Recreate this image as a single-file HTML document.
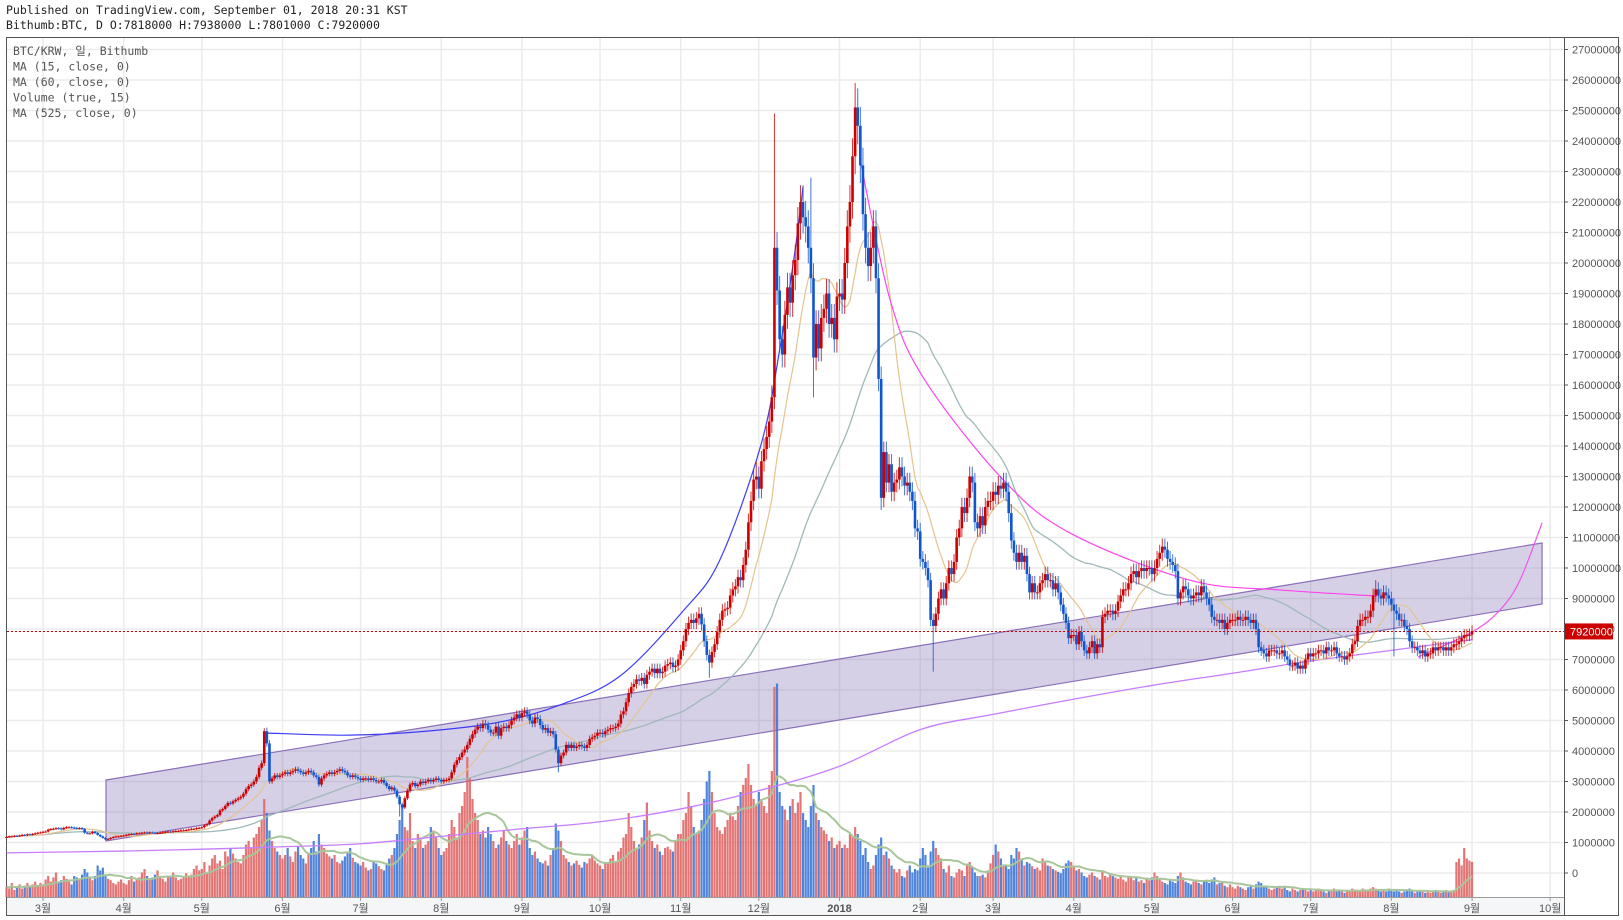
<!DOCTYPE html>
<html><head><meta charset="utf-8"><style>
body{margin:0;background:#fff;width:1623px;height:920px;overflow:hidden;font-family:"DejaVu Sans Mono","Liberation Mono",monospace}
#hdr{position:absolute;left:6px;top:3px;font-size:11.5px;color:#222;line-height:15px}
svg{position:absolute;left:0;top:0}
</style></head><body>
<div id="hdr">Published on TradingView.com, September 01, 2018 20:31 KST<br>Bithumb:BTC, D O:7818000 H:7938000 L:7801000 C:7920000</div>
<svg id="c" width="1623" height="920"></svg>
<script>
const closes=[1.18,1.2,1.2,1.22,1.21,1.23,1.25,1.24,1.27,1.26,1.28,1.3,1.32,1.33,
1.35,1.36,1.42,1.44,1.45,1.47,1.46,1.43,1.48,1.5,1.5,1.49,1.48,1.46,1.47,1.44,1.32,1.3,1.3,1.35,1.31,1.25,1.2,1.15,1.1,1.12,1.15,1.18,1.2,1.2,1.22,
1.23,1.25,1.27,1.28,1.27,1.3,1.3,1.32,1.33,1.31,1.33,1.32,1.3,1.31,1.32,1.33,1.35,1.36,1.35,1.37,1.38,1.38,1.4,1.4,1.41,1.43,1.45,1.45,1.47,1.48,
1.5,1.56,1.6,1.72,1.8,1.85,1.9,2.05,2.1,2.2,2.3,2.28,2.35,2.4,2.45,2.5,2.6,2.75,2.85,2.9,3.0,3.15,3.45,3.6,4.65,4.25,3.0,3.1,3.2,3.15,3.2,
3.25,3.3,3.25,3.3,3.35,3.4,3.35,3.3,3.25,3.3,3.35,3.3,3.2,3.15,2.9,3.1,3.2,3.25,3.3,3.25,3.3,3.35,3.4,3.35,3.3,3.2,3.15,3.2,3.15,3.1,
3.05,3.1,3.1,3.05,3.1,3.05,3.0,3.0,3.05,2.95,2.85,2.75,2.8,2.7,2.5,2.25,2.15,2.45,2.7,2.9,2.95,2.85,2.9,3.0,2.95,3.0,3.05,3.0,3.05,3.1,3.05,
3.0,3.05,3.05,3.1,3.3,3.55,3.7,3.8,3.95,4.05,4.2,4.4,4.55,4.7,4.8,4.75,4.9,4.85,4.7,4.6,4.6,4.8,4.5,4.75,4.8,4.75,4.85,5.0,5.1,5.2,5.1,
5.25,5.3,5.2,5.0,4.9,5.1,5.05,4.85,4.7,4.75,4.6,4.65,4.55,4.05,3.6,3.85,3.95,4.2,4.1,4.2,4.1,4.15,4.2,4.15,4.1,4.2,4.4,4.45,4.5,4.6,
4.6,4.55,4.65,4.7,4.75,4.75,4.8,4.9,5.2,5.3,5.6,5.9,6.1,6.2,6.35,6.3,6.4,6.2,6.5,6.6,6.7,6.55,6.7,6.55,6.6,6.8,6.85,6.9,6.75,6.8,7.0,
7.3,7.6,8.0,8.2,8.3,8.2,8.35,8.5,8.15,7.6,7.15,6.9,7.25,7.5,7.9,8.3,8.6,8.65,8.7,9.1,9.3,9.4,9.7,9.6,10.1,10.6,11.5,12.2,12.9,13.0,
12.6,13.5,13.9,14.3,14.8,15.6,20.5,19.1,17.5,17.0,18.3,19.2,18.7,19.6,20.1,21.3,22.0,21.5,21.2,20.5,19.5,16.9,18.0,17.2,18.2,18.5,19.0,18.0,18.2,17.5,18.9,
19.0,18.8,20.0,21.2,22.0,23.5,25.1,24.5,23.2,21.6,20.5,19.9,20.5,21.2,19.5,16.2,12.3,13.8,12.8,13.4,12.5,12.8,12.9,13.3,13.0,12.7,12.8,12.5,12.2,11.3,11.2,
10.3,10.2,10.0,9.6,8.3,8.1,8.5,9.0,9.3,9.0,9.5,10.0,9.8,10.2,11.0,11.3,12.0,11.8,12.3,13.0,12.8,11.5,11.3,11.7,11.4,12.0,12.2,12.2,
12.5,12.4,12.7,12.6,12.8,12.5,11.8,10.9,10.5,10.2,10.5,10.2,10.4,9.8,9.2,9.5,9.2,9.2,9.5,9.6,9.8,9.6,9.6,9.3,9.5,9.2,8.8,8.5,8.2,7.7,7.8,
7.8,7.5,7.9,7.6,7.3,7.2,7.4,7.6,7.2,7.5,7.4,8.4,8.5,8.6,8.6,8.5,8.6,8.9,9.1,9.3,9.3,9.5,9.8,9.9,9.7,9.9,10.0,9.9,10.0,10.0,
9.8,10.0,10.3,10.5,10.7,10.6,10.3,10.2,10.1,9.9,9.0,9.2,9.4,9.3,9.1,9.0,9.1,9.2,9.1,9.4,9.2,9.0,8.8,8.4,8.3,8.3,8.2,8.3,8.0,8.2,8.3,
8.3,8.3,8.4,8.3,8.3,8.4,8.3,8.2,8.3,8.0,7.4,7.3,7.2,7.1,7.3,7.3,7.3,7.2,7.2,7.3,7.1,7.0,6.8,6.8,6.9,6.7,6.8,6.7,7.0,7.2,
7.1,7.2,7.2,7.3,7.3,7.2,7.4,7.3,7.3,7.4,7.2,7.1,7.1,7.0,7.1,7.2,7.5,7.6,8.1,8.3,8.3,8.4,8.4,8.6,9.1,9.3,9.1,9.0,9.2,9.1,9.0,
8.8,8.6,8.5,8.3,8.3,8.1,8.0,7.6,7.4,7.4,7.3,7.2,7.3,7.1,7.2,7.2,7.4,7.3,7.4,7.4,7.3,7.4,7.3,7.4,7.5,7.5,7.6,7.7,7.8,7.8,7.818,
7.92];
const volumes=[15,12,20,10,14,18,12,16,20,14,18,22,16,20,
18,25,30,22,28,35,20,24,30,26,22,18,30,28,25,32,40,35,28,24,30,45,38,42,30,26,24,20,18,22,25,
20,18,24,30,22,26,28,35,40,30,25,28,32,38,30,26,22,28,30,35,28,24,26,30,34,28,32,40,45,38,
40,50,35,45,55,60,48,52,40,65,58,70,62,55,50,48,60,75,80,70,85,90,100,110,140,120,95,80,70,65,60,
55,60,70,58,50,65,72,60,55,48,62,70,80,65,90,75,70,62,58,55,60,50,48,52,58,64,70,56,50,48,
45,50,42,38,40,52,48,44,40,38,46,55,60,70,90,110,130,100,95,120,80,70,90,85,70,75,80,100,95,85,70,
60,65,70,90,110,100,85,120,130,150,200,170,140,120,110,90,95,85,100,90,80,70,75,85,95,80,75,70,80,90,75,
85,95,100,70,60,65,55,50,48,52,45,60,70,105,95,80,60,55,50,45,48,52,46,42,50,48,55,60,52,48,
45,40,50,48,55,60,50,65,70,85,90,120,100,80,70,75,85,110,135,95,80,70,75,65,60,70,72,68,65,80,90,
90,110,120,150,130,100,90,95,110,140,165,180,150,120,100,95,90,100,110,120,115,110,130,150,160,170,190,160,140,130,
150,140,130,120,160,180,300,305,150,130,125,110,130,140,120,135,150,120,110,100,130,160,120,110,100,95,90,80,85,70,75,
80,70,75,70,90,85,100,90,80,60,70,50,40,45,60,75,85,60,65,55,45,40,35,40,30,28,38,45,35,40,38,
55,70,60,45,65,80,70,60,55,40,35,45,30,28,35,40,38,30,45,50,42,35,30,30,32,28,38,48,
60,75,65,55,45,45,40,60,55,70,65,55,45,50,48,44,40,42,38,55,50,45,44,40,38,36,34,40,48,52,50,
45,38,40,35,30,28,32,35,30,28,25,38,30,28,32,30,28,26,30,25,22,30,28,24,28,22,24,20,26,24,
28,35,30,25,22,20,18,24,22,20,30,35,28,22,20,18,22,25,20,18,22,24,20,25,28,18,20,22,16,14,18,
14,12,16,14,12,10,14,16,12,18,22,20,15,14,12,10,12,14,16,12,14,10,8,12,10,8,10,12,10,8,
10,8,10,12,10,8,6,8,10,12,8,10,8,6,8,10,12,10,8,10,12,8,10,12,14,12,10,8,10,8,12,
10,8,10,8,6,8,10,12,8,6,8,10,8,6,8,6,8,10,8,6,8,10,8,8,10,50,55,45,70,55,52,
50];
const highSpikes=[[99,4.75],[295,24.9],[326,25.9],[309,22.8],[288,13.5],[451,9.3],[526,9.6]];
const lowSpikes=[[151,1.85],[212,3.3],[270,6.4],[310,15.6],[356,6.6],[533,7.1],[336,11.9]];
const ma525Idx=[0,45,75,106,136,167,198,228,259,289,320,351,379,410,440,471,501,532,563];
const ma525Val=[0.66,0.72,0.78,0.86,0.96,1.2,1.45,1.68,2.1,2.7,3.5,4.7,5.2,5.7,6.15,6.55,6.95,7.3,7.65];
const monthLabels=["3월","4월","5월","6월","7월","8월","9월","10월","11월","12월","2018","2월","3월","4월","5월","6월","7월","8월","9월","10월"];
const monthIdx=[14,45,75,106,136,167,198,228,259,289,320,351,379,410,440,471,501,532,563,593];
const priceTicks=[0,1,2,3,4,5,6,7,8,9,10,11,12,13,14,15,16,17,18,19,20,21,22,23,24,25,26,27];
const lastPrice=7.92;

const NS="http://www.w3.org/2000/svg";
const svg=document.getElementById('c');
const X=i=>43+(i-14)*2.603;
const Y=v=>873-30.5*v;
const VS=0.7;
const VY=h=>897-h*VS;
function el(t,a,p){const e=document.createElementNS(NS,t);for(const k in a)e.setAttribute(k,a[k]);(p||svg).appendChild(e);return e;}
function smooth(P){let d='M'+P[0][0]+','+P[0][1];for(let k=0;k<P.length-1;k++){const p0=P[k-1]||P[k],p1=P[k],p2=P[k+1],p3=P[k+2]||p2;
const c1=[p1[0]+(p2[0]-p0[0])/6,p1[1]+(p2[1]-p0[1])/6],c2=[p2[0]-(p3[0]-p1[0])/6,p2[1]-(p3[1]-p1[1])/6];
d+=' C'+c1[0]+','+c1[1]+' '+c2[0]+','+c2[1]+' '+p2[0]+','+p2[1];}return d;}

const frame=el('rect',{x:6.5,y:37.5,width:1612,height:878,fill:'#fff',stroke:'#555'});


el('rect',{x:7,y:898,width:1557,height:17,fill:'#f4f6f8'});
const grid=el('g',{});


priceTicks.forEach(v=>{el('line',{x1:7,x2:1564,y1:Y(v),y2:Y(v),stroke:'#ebebeb','stroke-width':1.5},grid);});
monthIdx.forEach(i=>{el('line',{x1:X(i),x2:X(i),y1:38,y2:897,stroke:'#ebebeb','stroke-width':1.5},grid);});
el('line',{x1:1564.5,x2:1564.5,y1:38,y2:915,stroke:'#555'});
el('line',{x1:7,x2:1564,y1:897.5,y2:897.5,stroke:'#999'});
const yax=el('g',{'font-size':'11','fill':'#555','font-family':'Liberation Sans, sans-serif'});


priceTicks.forEach(v=>{el('line',{x1:1564,x2:1568,y1:Y(v),y2:Y(v),stroke:'#555'},yax);const t=el('text',{x:1572,y:Y(v)+4},yax);t.textContent=String(Math.round(v*1000000));});
const xax=el('g',{'font-size':'11','fill':'#555','text-anchor':'middle','font-family':'Liberation Sans, Noto Sans CJK KR, sans-serif'});


monthIdx.forEach((i,k)=>{el('line',{x1:X(i),x2:X(i),y1:897,y2:901,stroke:'#999'},xax);const t=el('text',{x:X(i),y:912,'font-weight':monthLabels[k]==='2018'?'bold':'normal'},xax);t.textContent=monthLabels[k];});

const ch=el('polygon',{points:[[38.2,3.05],[589.9,10.82],[589.9,8.82],[38.2,1.05]].map(p=>X(p[0])+','+Y(p[1])).join(' '),fill:'rgba(120,100,175,0.3)',stroke:'#8a6fb8','stroke-width':1.2});



const vg=el('g',{});


volumes.forEach((v,i)=>{const o=i?closes[i-1]:closes[0];const up=closes[i]>=o;
const b=el('rect',{x:X(i)-1.1,y:VY(v),width:2.2,height:v*VS,fill:up?'#e06666':'#3c78d8',opacity:0.9},vg);

});
function ma(arr,n){return arr.map((_,i)=>{const s=Math.max(0,i-n+1);let t=0;for(let j=s;j<=i;j++)t+=arr[j];return t/(i-s+1);});}
const vma=ma(volumes,15);
const vmaL=el('polyline',{points:vma.map((v,i)=>X(i)+','+VY(v)).join(' '),fill:'none',stroke:'#a8c69a','stroke-width':2});



const m5=el('path',{d:smooth(ma525Idx.map((i,k)=>[X(i),Y(ma525Val[k])])),fill:'none',stroke:'#c77dff','stroke-width':1.3});


const m60=el('polyline',{points:ma(closes,60).map((v,i)=>X(i)+','+Y(v)).join(' '),fill:'none',stroke:'#9fb9bb','stroke-width':1.3});


const m15=el('polyline',{points:ma(closes,15).map((v,i)=>X(i)+','+Y(v)).join(' '),fill:'none',stroke:'#e3c48e','stroke-width':1.2});



function curve(pts,col,name){const e=el('path',{d:smooth(pts.map(p=>[X(p[0]),Y(p[1])])),fill:'none',stroke:col,'stroke-width':1.2});

}
curve([[99.7,4.59],[132,4.52],[162.7,4.66],[189.6,4.95],[212.6,5.51],[235.7,6.46],[259.9,8.59],[274,10.26],[289.8,14.03],[297.1,17.2],[302.9,20.4],[306,22.5]],'#3d3df5','blue-arc');
curve([[327.9,23.4],[339.4,18.8],[352.5,16.2],[382.8,12.9],[408.5,11.15],[454.6,9.6],[489.2,9.28],[526.5,9.08]],'#ff44ee','magenta-arc');
curve([[542.2,7.08],[563,7.9],[573.7,8.62],[581.4,9.6],[589.9,11.48]],'#ee55ee','magenta-rise-arc');

const cg=el('g',{});


const hs={},ls={};highSpikes.forEach(p=>hs[p[0]]=p[1]);lowSpikes.forEach(p=>ls[p[0]]=p[1]);
closes.forEach((c,i)=>{const o=i?closes[i-1]:c;const up=c>=o;const col=up?'#cc0000':'#1155cc';
const hi=hs[i]!==undefined?hs[i]:Math.max(o,c)*1.025;const lo=ls[i]!==undefined?ls[i]:Math.min(o,c)*0.975;
el('line',{x1:X(i),x2:X(i),y1:Y(hi),y2:Y(lo),stroke:col,'stroke-width':1,opacity:0.8},cg);
const top=Y(Math.max(o,c)),bot=Y(Math.min(o,c));
const r=el('rect',{x:X(i)-1.3,y:top,width:2.6,height:Math.max(1,bot-top),fill:col},cg);

});

el('line',{x1:7,x2:1564,y1:Y(lastPrice),y2:Y(lastPrice),stroke:'#cc0000','stroke-dasharray':'2,2','stroke-width':1});
const lb=el('rect',{x:1565,y:Y(lastPrice)-8,width:48,height:16,fill:'#cc0000'});


const lt=el('text',{x:1570,y:Y(lastPrice)+4,'font-size':'11',fill:'#fff','font-family':'Liberation Sans, sans-serif'});lt.textContent=String(Math.round(lastPrice*1e6));

const lg=el('g',{'font-size':'11.5',fill:'#555','font-family':'DejaVu Sans Mono, Noto Sans CJK KR, monospace'});


["BTC/KRW, 일, Bithumb","MA (15, close, 0)","MA (60, close, 0)","Volume (true, 15)","MA (525, close, 0)"].forEach((s,k)=>{const t=el('text',{x:13,y:55+k*15.5},lg);t.textContent=s;

});
</script>
</body></html>
